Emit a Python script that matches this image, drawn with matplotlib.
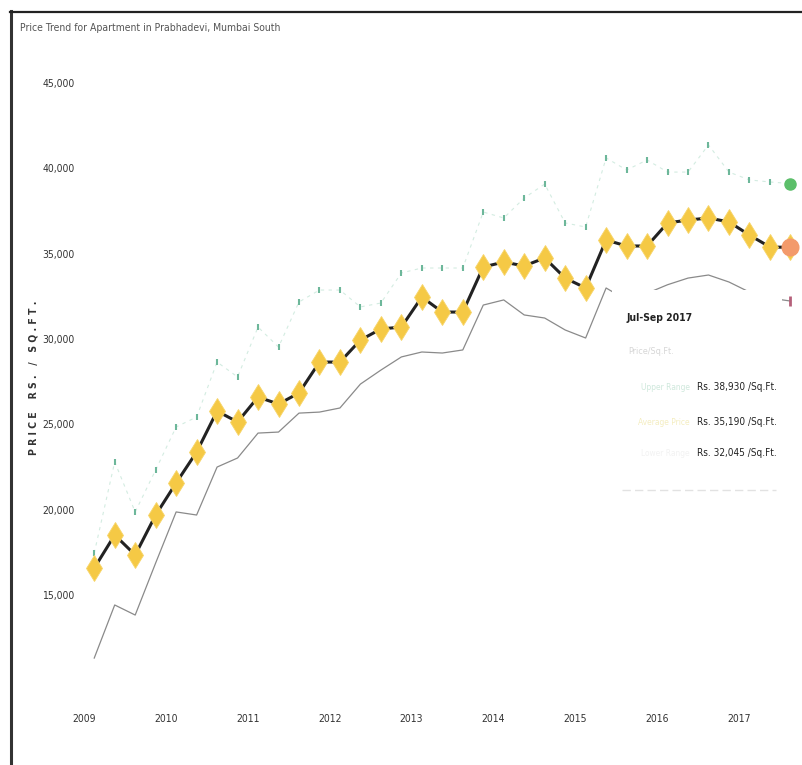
import matplotlib
matplotlib.use("Agg")
import matplotlib.pyplot as plt
from matplotlib.patches import Rectangle
from matplotlib.lines import Line2D
from matplotlib.transforms import ScaledTranslation

plt.rcParams['font.family'] = ['Liberation Sans Narrow', 'DejaVu Sans']
plt.rcParams['font.stretch'] = 'condensed'

# quarterly data, Jan-Mar 2009 .. Jul-Sep 2017
quarters = [f"{q} {y}" for y in range(2009, 2018) for q in ("Q1", "Q2", "Q3", "Q4")][:35]

upper_range = [17280, 22620, 19690, 22150, 24670, 25250, 28470, 27600, 30520, 29350,
               31990, 32690, 32690, 31700, 31930, 33690, 33980, 33980, 33980, 37260,
               36910, 38080, 38900, 36620, 36380, 40430, 39720, 40310, 39600, 39600,
               41190, 39600, 39140, 39020, 38930]
avg_price = [16400, 18340, 17170, 19510, 21390, 23200, 25600, 24960, 26420, 26010,
             26660, 28470, 28470, 29760, 30410, 30520, 32280, 31400, 31400, 34040,
             34330, 34100, 34570, 33390, 32810, 35620, 35270, 35270, 36620, 36790,
             36910, 36680, 35910, 35210, 35190]
lower_range = [11130, 14240, 13650, 16700, 19690, 19510, 22320, 22850, 24310, 24370,
               25480, 25540, 25780, 27180, 28000, 28770, 29060, 29000, 29180, 31810,
               32110, 31230, 31050, 30350, 29880, 32810, 32100, 32500, 33000, 33390,
               33570, 33160, 32570, 32220, 32045]

years = list(range(2009, 2018))
yticks = [15000, 20000, 25000, 30000, 35000, 40000, 45000]

# x position: middle of each quarter
xs = [2009 + (i + 0.5) / 4 for i in range(len(quarters))]

W, H = 802, 765
fig = plt.figure(figsize=(W / 100, H / 100), dpi=100)
fig.patch.set_facecolor('white')

def fx(px):
    return px / W

def fy(py):
    return 1 - py / H

ax = fig.add_axes([fx(80), fy(700), (800 - 80) / W, (700 - 40) / H])
ax.set_xlim(2009 + (80 - 84) / 81.9, 2009 + (800 - 84) / 81.9)
ax.set_ylim(15000 + (592 - 700) / 0.01707, 15000 + (592 - 40) / 0.01707)
for s in ax.spines.values():
    s.set_visible(False)

# series
ax.plot(xs, upper_range, color='#d3ece1', lw=0.8, ls=(0, (3, 4)), zorder=2)
ax.plot(xs, upper_range, ls='none', marker='|', ms=5, mew=1.5, color='#6db79a', zorder=3)
ax.plot(xs, lower_range, color='#8a8a8a', lw=0.9, zorder=2)
ax.plot(xs, avg_price, color='#222222', lw=2.2, zorder=4)
ax.plot(xs, avg_price, ls='none', marker='d', ms=13, color='#f5c945',
        mec='#f7d56a', mew=0.6, zorder=5)

# highlighted last quarter
ax.plot(xs[-1], avg_price[-1], marker='o', ms=12, color='#f39a6b', zorder=6, clip_on=False)
ax.plot(xs[-1], upper_range[-1], marker='o', ms=8, color='#5cbf6a', zorder=6, clip_on=False)
ax.plot(xs[-1], lower_range[-1], marker='|', ms=7, mew=2, color='#b5607a', zorder=6, clip_on=False)

ax.set_xticks(years)
ax.set_xticklabels([str(y) for y in years], fontsize=7.5, color='#333333')
ax.set_yticks(yticks)
ax.set_yticklabels([f"{v:,}" for v in yticks], fontsize=7.5, color='#333333')
ax.tick_params(axis='both', length=0)
ax.tick_params(axis='x', pad=10)
ax.tick_params(axis='y', pad=4)
off = ScaledTranslation(0, -0.03, fig.dpi_scale_trans)
for lab in ax.get_yticklabels():
    lab.set_transform(lab.get_transform() + off)

# frame
fig.add_artist(Line2D([fx(11), fx(11)], [fy(11), 0], color='#333333', lw=2.2))
fig.add_artist(Line2D([fx(10), 1], [fy(12), fy(12)], color='#222222', lw=1.6))

# title and axis label
fig.text(fx(20), fy(28), "Price Trend for Apartment in Prabhadevi, Mumbai South",
         fontsize=7.5, color='#555555', va='center', ha='left')
fig.text(fx(34), fy(378), "P R I C E    R S .   /   S Q . F T .", rotation=90,
         fontsize=7.5, fontweight='bold', color='#333333', ha='center', va='center')

# tooltip
fig.add_artist(Rectangle((fx(612), fy(505)), fx(782) - fx(612), fy(290) - fy(505),
                         transform=fig.transFigure, facecolor='white', edgecolor='none',
                         zorder=5))
fig.text(fx(627), fy(318), "Jul-Sep 2017", fontsize=7.5, fontweight='bold',
         color='#222222', va='center', ha='left', zorder=6)
fig.text(fx(628), fy(352), "Price/Sq.Ft.", fontsize=6.5, color='#d6d6d6',
         va='center', ha='left', zorder=6)
rows = [("Upper Range", '#cfe8dc', upper_range[-1], 387),
        ("Average Price", '#f4edc0', avg_price[-1], 422),
        ("Lower Range", '#f2f2f2', lower_range[-1], 453)]
for name, c, v, py in rows:
    fig.text(fx(690), fy(py), name, fontsize=6, color=c, va='center', ha='right', zorder=6)
    fig.text(fx(697), fy(py), f"Rs. {v:,} /Sq.Ft.", fontsize=7.2, color='#222222',
             va='center', ha='left', zorder=6)
fig.add_artist(Line2D([fx(622), fx(776)], [fy(490), fy(490)], color='#e2e2e2',
                      lw=1, ls=(0, (6, 3)), zorder=6))

fig.savefig("out.png", dpi=100, facecolor='white')
